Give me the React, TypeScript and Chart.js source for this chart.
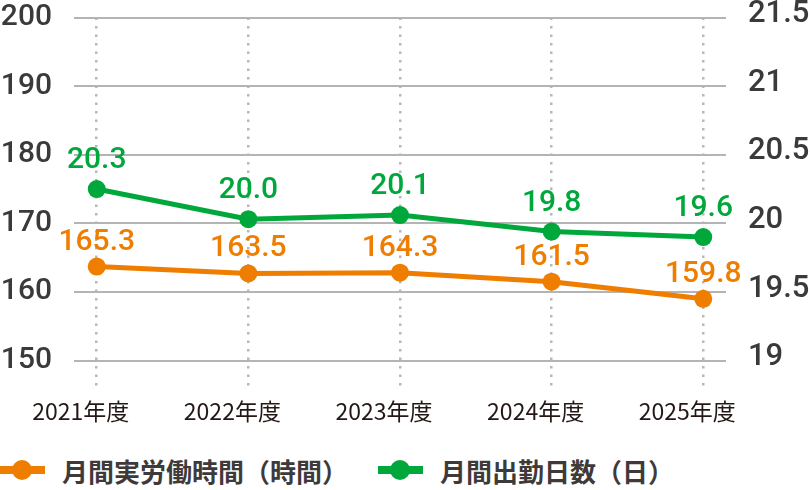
import { useEffect, useRef } from "react";
import { Chart, registerables } from "chart.js";

Chart.register(...registerables);

const years = ["2021年度", "2022年度", "2023年度", "2024年度", "2025年度"];
const seriesNames = ["月間実労働時間（時間）", "月間出勤日数（日）"];
const seriesColors = ["#ef7d00", "#00a83c"];

// figures printed above the markers
const hoursLabels = ["165.3", "163.5", "164.3", "161.5", "159.8"];
const daysLabels = ["20.3", "20.0", "20.1", "19.8", "19.6"];

// where the markers actually sit on each axis in the picture
const hoursPlotted = [163.7, 162.7, 162.8, 161.5, 159.0];
const daysPlotted = [20.25, 20.03, 20.06, 19.94, 19.9];

const leftTicks = [150, 160, 170, 180, 190, 200];
const rightTicks = [19, 19.5, 20, 20.5, 21, 21.5];

const valueLabels = {
  id: "valueLabels",
  afterDatasetsDraw(chart: any) {
    const { ctx } = chart;
    chart.data.datasets.forEach((ds: any, di: number) => {
      const meta = chart.getDatasetMeta(di);
      const texts = di === 0 ? hoursLabels : daysLabels;
      const lift = di === 0 ? 17 : 21;
      ctx.save();
      ctx.font = "500 30px Roboto";
      ctx.fillStyle = ds.borderColor;
      ctx.textAlign = "center";
      ctx.textBaseline = "alphabetic";
      meta.data.forEach((pt: any, i: number) => {
        ctx.fillText(texts[i], pt.x, pt.y - lift);
      });
      ctx.restore();
    });
  },
};

function LegendMark({ color }: { color: string }) {
  return (
    <div style={{ position: "relative", width: 45, height: 20 }}>
      <div style={{ position: "absolute", left: 0, top: 6, width: 45, height: 8, background: color }} />
      <div
        style={{
          position: "absolute",
          left: 12,
          top: 0,
          width: 20,
          height: 20,
          borderRadius: "50%",
          background: color,
        }}
      />
    </div>
  );
}

export default function App() {
  const chartRef = useRef<HTMLCanvasElement>(null);
  const chartInstance = useRef<Chart | null>(null);

  useEffect(() => {
    if (!chartRef.current) return;
    if (chartInstance.current) chartInstance.current.destroy();
    const ctx = chartRef.current.getContext("2d");
    if (!ctx) return;

    chartInstance.current = new Chart(ctx, {
      type: "line",
      data: {
        datasets: [
          {
            label: seriesNames[0],
            data: hoursPlotted.map((y, i) => ({ x: i, y })),
            yAxisID: "y",
            borderColor: seriesColors[0],
            backgroundColor: seriesColors[0],
            borderWidth: 5,
            pointRadius: 9,
            pointBorderWidth: 0,
            pointBackgroundColor: seriesColors[0],
            tension: 0,
          },
          {
            label: seriesNames[1],
            data: daysPlotted.map((y, i) => ({ x: i, y })),
            yAxisID: "y1",
            borderColor: seriesColors[1],
            backgroundColor: seriesColors[1],
            borderWidth: 5,
            pointRadius: 9,
            pointBorderWidth: 0,
            pointBackgroundColor: seriesColors[1],
            tension: 0,
          },
        ],
      },
      options: {
        responsive: true,
        maintainAspectRatio: false,
        animation: false,
        layout: { padding: 0 },
        plugins: {
          legend: { display: false },
          tooltip: { enabled: false },
        },
        scales: {
          x: {
            type: "linear",
            min: -0.15,
            max: 4.15,
            afterBuildTicks: (s: any) => {
              s.ticks = years.map((_, i) => ({ value: i }));
            },
            afterFit: (s: any) => {
              s.height = 62;
            },
            ticks: {
              callback: (v: any) => years[v] ?? "",
              font: { family: "'Noto Sans CJK JP'", size: 23 },
              color: "#231815",
              padding: 9,
              labelOffset: -16,
              autoSkip: false,
              maxRotation: 0,
            },
            grid: { color: "#b8b8b8", lineWidth: 2.5, drawTicks: false },
            border: { display: false, dash: [2.5, 6] },
          },
          y: {
            position: "left",
            min: 146,
            max: 200,
            afterBuildTicks: (s: any) => {
              s.ticks = leftTicks.map((v) => ({ value: v }));
            },
            afterFit: (s: any) => {
              s.width = 74;
              s.paddingTop = 17.5;
              s.paddingBottom = 0;
            },
            ticks: {
              callback: (v: any) => String(v),
              font: { family: "Roboto", size: 30, weight: 500 },
              color: "#3a3a3a",
              padding: 22,
            },
            grid: { color: "#b4b4b4", lineWidth: 2, drawTicks: false },
            border: { display: false },
          },
          y1: {
            position: "right",
            min: 18.8,
            max: 21.5,
            afterBuildTicks: (s: any) => {
              s.ticks = rightTicks.map((v) => ({ value: v }));
            },
            afterFit: (s: any) => {
              s.width = 84;
              s.paddingTop = 17.5;
              s.paddingBottom = 0;
            },
            ticks: {
              callback: (v: any) => String(v),
              font: { family: "Roboto", size: 31, weight: 500 },
              color: "#3a3a3a",
              padding: 22,
              labelOffset: -3,
            },
            grid: { display: false, drawTicks: false },
            border: { display: false },
          },
        },
      },
      plugins: [valueLabels],
    });

    return () => {
      if (chartInstance.current) {
        chartInstance.current.destroy();
        chartInstance.current = null;
      }
    };
  }, []);

  return (
    <div style={{ position: "fixed", left: 0, top: 0, width: 810, height: 490, background: "#fff" }}>
      <div style={{ position: "absolute", left: 0, top: 0, width: 810, height: 450 }}>
        <canvas ref={chartRef} />
      </div>
      <div
        style={{
          position: "absolute",
          left: 0,
          top: 452,
          height: 36,
          display: "flex",
          alignItems: "center",
          fontFamily: "'Noto Sans CJK JP'",
          fontWeight: 700,
          fontSize: 26,
          color: "#3e3a39",
          whiteSpace: "nowrap",
        }}
      >
        {seriesNames.map((name, i) => (
          <div key={name} style={{ display: "flex", alignItems: "center", marginLeft: i === 0 ? 0 : 30 }}>
            <LegendMark color={seriesColors[i]} />
            <span style={{ marginLeft: 17 }}>{name}</span>
          </div>
        ))}
      </div>
    </div>
  );
}
